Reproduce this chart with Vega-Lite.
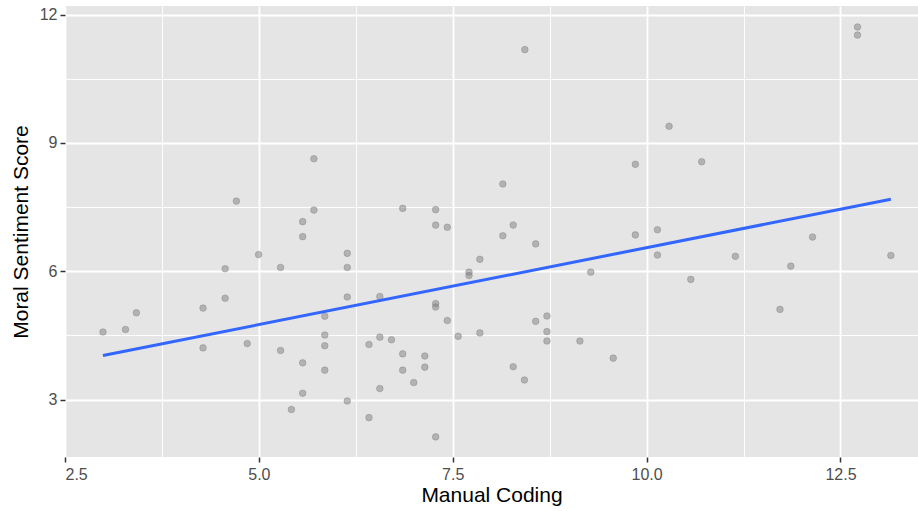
{
  "$schema": "https://vega.github.io/schema/vega-lite/v6.json",
  "width": 853,
  "height": 451,
  "autosize": {"type": "none"},
  "padding": {"left": 65, "top": 6, "right": 0, "bottom": 54},
  "background": "white",
  "config": {
    "view": {"fill": "#E5E5E5", "stroke": null},
    "font": "Liberation Sans",
    "axis": {
      "labelColor": "#4D4D4D",
      "labelFontSize": 16,
      "tickColor": "#333333",
      "tickSize": 5,
      "tickWidth": 1.5,
      "labelPadding": 4,
      "domain": false,
      "gridColor": "white",
      "titleColor": "black",
      "titleFontSize": 21,
      "titleFontWeight": "normal"
    }
  },
  "data": {
    "values": [
      {"manual": 2.99, "moral": 4.58},
      {"manual": 3.28, "moral": 4.64},
      {"manual": 3.42, "moral": 5.03},
      {"manual": 4.28, "moral": 5.14},
      {"manual": 4.28, "moral": 4.21},
      {"manual": 4.565, "moral": 5.37},
      {"manual": 4.565, "moral": 6.06},
      {"manual": 4.71, "moral": 7.64},
      {"manual": 4.85, "moral": 4.31},
      {"manual": 4.996, "moral": 6.39},
      {"manual": 5.28, "moral": 6.09},
      {"manual": 5.28, "moral": 4.15},
      {"manual": 5.71, "moral": 8.63},
      {"manual": 5.71, "moral": 7.43},
      {"manual": 5.565, "moral": 7.16},
      {"manual": 5.565, "moral": 6.81},
      {"manual": 6.14, "moral": 6.42},
      {"manual": 6.14, "moral": 6.09},
      {"manual": 6.14, "moral": 5.40},
      {"manual": 6.56, "moral": 5.41},
      {"manual": 5.85, "moral": 4.95},
      {"manual": 5.85, "moral": 4.51},
      {"manual": 5.85, "moral": 4.26},
      {"manual": 5.85, "moral": 3.69},
      {"manual": 5.565, "moral": 3.86},
      {"manual": 5.565, "moral": 3.15},
      {"manual": 5.42, "moral": 2.77},
      {"manual": 6.14, "moral": 2.97},
      {"manual": 6.42, "moral": 2.58},
      {"manual": 6.42, "moral": 4.29},
      {"manual": 6.56, "moral": 4.46},
      {"manual": 6.71, "moral": 4.40},
      {"manual": 6.855, "moral": 4.07},
      {"manual": 6.855, "moral": 3.69},
      {"manual": 6.56, "moral": 3.26},
      {"manual": 6.997, "moral": 3.40},
      {"manual": 7.14, "moral": 4.02},
      {"manual": 7.14, "moral": 3.76},
      {"manual": 6.855, "moral": 7.47},
      {"manual": 7.28, "moral": 7.44},
      {"manual": 7.28, "moral": 7.08},
      {"manual": 7.43, "moral": 7.03},
      {"manual": 7.28, "moral": 5.245},
      {"manual": 7.28, "moral": 5.165},
      {"manual": 7.43, "moral": 4.85},
      {"manual": 7.57, "moral": 4.48},
      {"manual": 7.85, "moral": 4.56},
      {"manual": 7.71, "moral": 5.98},
      {"manual": 7.71, "moral": 5.90},
      {"manual": 7.85, "moral": 6.28},
      {"manual": 7.28, "moral": 2.13},
      {"manual": 8.146, "moral": 8.04},
      {"manual": 8.146, "moral": 6.83},
      {"manual": 8.28, "moral": 7.08},
      {"manual": 8.57, "moral": 6.64},
      {"manual": 10.29, "moral": 9.39},
      {"manual": 9.855, "moral": 8.50},
      {"manual": 10.71, "moral": 8.56},
      {"manual": 9.855, "moral": 6.85},
      {"manual": 10.14, "moral": 6.97},
      {"manual": 10.14, "moral": 6.38},
      {"manual": 9.28, "moral": 5.98},
      {"manual": 10.57, "moral": 5.81},
      {"manual": 8.57, "moral": 4.83},
      {"manual": 8.715, "moral": 4.955},
      {"manual": 8.715, "moral": 4.59},
      {"manual": 8.715, "moral": 4.37},
      {"manual": 9.14, "moral": 4.37},
      {"manual": 9.57, "moral": 3.97},
      {"manual": 8.28, "moral": 3.77},
      {"manual": 8.425, "moral": 3.46},
      {"manual": 8.43, "moral": 11.18},
      {"manual": 11.145, "moral": 6.35},
      {"manual": 11.86, "moral": 6.12},
      {"manual": 12.14, "moral": 6.80},
      {"manual": 11.72, "moral": 5.11},
      {"manual": 13.15, "moral": 6.37},
      {"manual": 12.72, "moral": 11.71},
      {"manual": 12.72, "moral": 11.52}
    ]
  },
  "layer": [
    {
      "mark": {"type": "point", "shape": "circle", "filled": true, "size": 44, "fill": "#7F7F7F", "fillOpacity": 0.5, "stroke": "#7F7F7F", "strokeOpacity": 0.5, "strokeWidth": 0.8},
      "encoding": {
        "x": {
          "field": "manual", "type": "quantitative",
          "scale": {"domain": [2.5, 13.5], "nice": false, "zero": false},
          "axis": {"title": "Manual Coding", "values": [2.5, 5, 7.5, 10, 12.5], "format": ".1f", "labelFontSize": 16, "labelPadding": 4, "grid": true, "gridWidth": 1.8, "titlePadding": 2, "orient": "bottom"}
        },
        "y": {
          "field": "moral", "type": "quantitative",
          "scale": {"domain": [1.66, 12.2], "nice": false, "zero": false},
          "axis": {"title": "Moral Sentiment Score", "values": [3, 6, 9, 12], "labelFontSize": 16, "grid": true, "gridWidth": 1.8, "titlePadding": 8, "labelPadding": 3, "orient": "left"}
        }
      }
    },
    {
      "transform": [{"regression": "moral", "on": "manual"}],
      "mark": {"type": "line", "color": "#3366FF", "strokeWidth": 3},
      "encoding": {
        "x": {
          "field": "manual", "type": "quantitative",
          "axis": {"values": [3.75, 6.25, 8.75, 11.25], "grid": true, "gridWidth": 0.9, "labels": false, "ticks": false, "title": null, "orient": "bottom"}
        },
        "y": {
          "field": "moral", "type": "quantitative",
          "axis": {"values": [4.5, 7.5, 10.5], "grid": true, "gridWidth": 0.9, "labels": false, "ticks": false, "title": null, "orient": "left"}
        }
      }
    }
  ],
  "resolve": {"axis": {"x": "independent", "y": "independent"}}
}
